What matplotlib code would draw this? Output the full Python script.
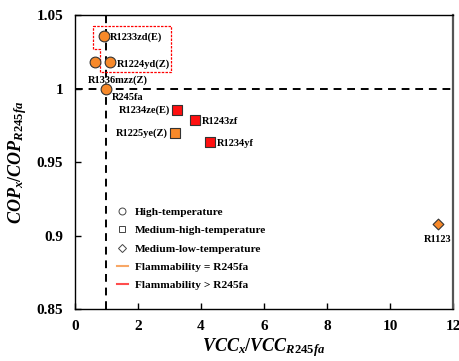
import matplotlib.pyplot as plt
from matplotlib.lines import Line2D

plt.rcParams['font.family'] = ['Liberation Serif', 'DejaVu Serif']
plt.rcParams['font.weight'] = 'bold'
plt.rcParams['mathtext.fontset'] = 'custom'
plt.rcParams['mathtext.it'] = 'Liberation Serif:italic:bold'
plt.rcParams['mathtext.rm'] = 'Liberation Serif:bold'
plt.rcParams['mathtext.bf'] = 'Liberation Serif:bold'

# refrigerant data (VCC ratio, COP ratio)
names = ['R1233zd(E)', 'R1336mzz(Z)', 'R1224yd(Z)', 'R245fa',
         'R1234ze(E)', 'R1243zf', 'R1225ye(Z)', 'R1234yf', 'R1123']
vcc = [0.92, 0.62, 1.11, 1.00, 3.23, 3.81, 3.17, 4.27, 11.51]
cop = [1.0357, 1.0178, 1.0178, 1.000, 0.9854, 0.9786, 0.9695, 0.9634, 0.9076]
markers = ['o', 'o', 'o', 'o', 's', 's', 's', 's', 'D']
colors = ['#F7892A', '#F7892A', '#F7892A', '#F7892A',
          '#FF1010', '#FF1010', '#F7892A', '#FF1010', '#F7892A']
sizes = [60, 60, 60, 60, 55, 55, 55, 55, 30]
# label offsets in points and alignment
offsets = [(4, -1, 'left'), (17, -13, 'center'), (5, -1, 'left'), (4, -6.5, 'left'),
           (-5, 0, 'right'), (5, -1, 'left'), (-5, 0, 'right'), (5, -1, 'left'),
           (0, -11, 'center')]

# red dashed box around the low-GWP candidates
box_x = [0.58, 3.04, 3.04, 0.79, 0.79, 0.58, 0.58]
box_y = [1.0427, 1.0427, 1.0114, 1.0114, 1.0267, 1.0267, 1.0427]

fig = plt.figure(figsize=(4.6, 3.61), dpi=100)
ax = fig.add_axes([0.163, 0.144, 0.822, 0.814])

ax.axvline(1, color='black', ls=(0, (4, 3)), lw=1.4, zorder=1)
ax.axhline(1, color='black', ls=(0, (4, 3)), lw=1.4, zorder=1)
ax.plot(box_x, box_y, color='red', ls=(0, (2, 1)), lw=0.9, zorder=1)

for x, y, m, c, s, name, (dx, dy, ha) in zip(vcc, cop, markers, colors, sizes, names, offsets):
    ax.scatter(x, y, marker=m, s=s, color=c, edgecolor='#333333', linewidth=0.8, zorder=3)
    ax.annotate(name, (x, y), xytext=(dx, dy), textcoords='offset points',
                ha=ha, va='center', fontsize=7.5, fontweight='bold')

handles = [
    Line2D([], [], marker='o', ls='none', mfc='white', mec='#444444', ms=5, mew=0.7),
    Line2D([], [], marker='s', ls='none', mfc='white', mec='#444444', ms=5, mew=0.7),
    Line2D([], [], marker='D', ls='none', mfc='white', mec='#444444', ms=4.5, mew=0.7),
    Line2D([], [], color='#F8A766', lw=1.5),
    Line2D([], [], color='#FF4D4D', lw=1.5),
]
labels = ['High-temperature', 'Medium-high-temperature', 'Medium-low-temperature',
          'Flammability = R245fa', 'Flammability > R245fa']
ax.legend(handles, labels, loc='lower left', bbox_to_anchor=(0.11, 0.065),
          frameon=False, handlelength=1.0, handletextpad=0.6,
          borderaxespad=0, borderpad=0,
          labelspacing=0.72, prop={'weight': 'bold', 'size': 8.2})

ax.set_xlim(0, 12)
ax.set_ylim(0.85, 1.05)
ax.set_xticks([0, 2, 4, 6, 8, 10, 12])
ax.set_yticks([0.85, 0.9, 0.95, 1.0, 1.05])
ax.set_yticklabels(['0.85', '0.9', '0.95', '1', '1.05'])
ax.tick_params(direction='in', length=4, labelsize=11, width=1)
ax.tick_params(axis='x', pad=8)
ax.tick_params(axis='y', pad=8.5)
for lab in ax.get_xticklabels() + ax.get_yticklabels():
    lab.set_fontweight('bold')
for sp in ax.spines.values():
    sp.set_linewidth(1.0)
ax.spines['right'].set_color('#555555')
ax.spines['right'].set_linewidth(1.6)

ax.set_xlabel(r'$\mathit{VCC_x/VCC_{R245fa}}$', fontsize=13, labelpad=2)
ax.set_ylabel(r'$\mathit{COP_x/COP_{R245fa}}$', fontsize=13, labelpad=5)

fig.savefig('out.png', dpi=100)
